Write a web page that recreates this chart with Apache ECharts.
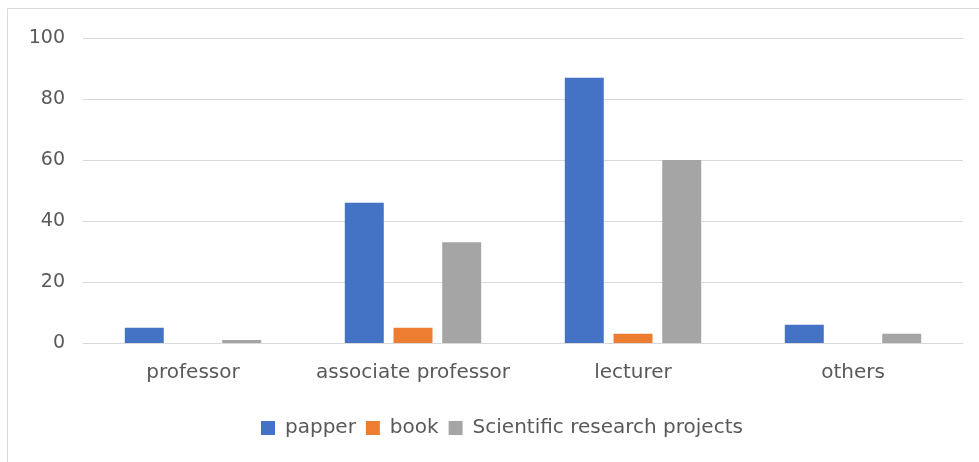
<!DOCTYPE html>
<html>
<head>
<meta charset="utf-8">
<script src="https://cdn.jsdelivr.net/npm/echarts@6/dist/echarts.min.js"></script>
<style>
  html, body { margin: 0; padding: 0; background: #fff; }
  #grafico { width: 979px; height: 462px; }
</style>
</head>
<body>
<div id="grafico"></div>
<script>
// Datos
const categorias = ['professor', 'associate professor', 'lecturer', 'others'];
const papper = [5, 46, 87, 6];
const book = [0, 5, 3, 0];
const proyectos = [1, 33, 60, 3];
const ticksY = [0, 20, 40, 60, 80, 100];

const fuente = 'DejaVu Sans';
const colorTexto = '#595959';

const grafico = echarts.init(document.getElementById('grafico'));

const opciones = {
    animation: false,
    textStyle: { fontFamily: fuente },
    // borde del área del gráfico (solo se ven arriba y a la izquierda)
    graphic: [{
        type: 'rect',
        shape: { x: 7.5, y: 8.5, width: 1100, height: 600 },
        style: { fill: 'none', stroke: '#d9d9d9', lineWidth: 1 },
        silent: true
    }],
    grid: { left: 83, right: 16, top: 38, bottom: 119 },
    legend: {
        bottom: 19,
        left: 256,
        itemWidth: 14,
        itemHeight: 14,
        itemGap: 10,
        icon: 'rect',
        textStyle: { color: colorTexto, fontSize: 20, fontFamily: fuente, padding: [0, 0, 0, 5] },
        data: ['papper', 'book', 'Scientific research projects']
    },
    xAxis: {
        type: 'category',
        data: categorias,
        axisLine: { lineStyle: { color: '#d9d9d9' } },
        axisTick: { show: false },
        axisLabel: { color: colorTexto, fontSize: 20, margin: 20, interval: 0, fontFamily: fuente }
    },
    yAxis: {
        type: 'value',
        min: ticksY[0],
        max: ticksY[ticksY.length - 1],
        interval: ticksY[1] - ticksY[0],
        axisLine: { show: false },
        axisTick: { show: false },
        splitLine: { lineStyle: { color: '#d9d9d9' } },
        axisLabel: { color: colorTexto, fontSize: 19, margin: 18, fontFamily: fuente }
    },
    series: [
        { name: 'papper', type: 'bar', data: papper, itemStyle: { color: '#4472C4' }, barGap: '25%', barCategoryGap: '38%' },
        { name: 'book', type: 'bar', data: book, itemStyle: { color: '#ED7D31' } },
        { name: 'Scientific research projects', type: 'bar', data: proyectos, itemStyle: { color: '#A5A5A5' } }
    ]
};

grafico.setOption(opciones);
</script>
</body>
</html>
